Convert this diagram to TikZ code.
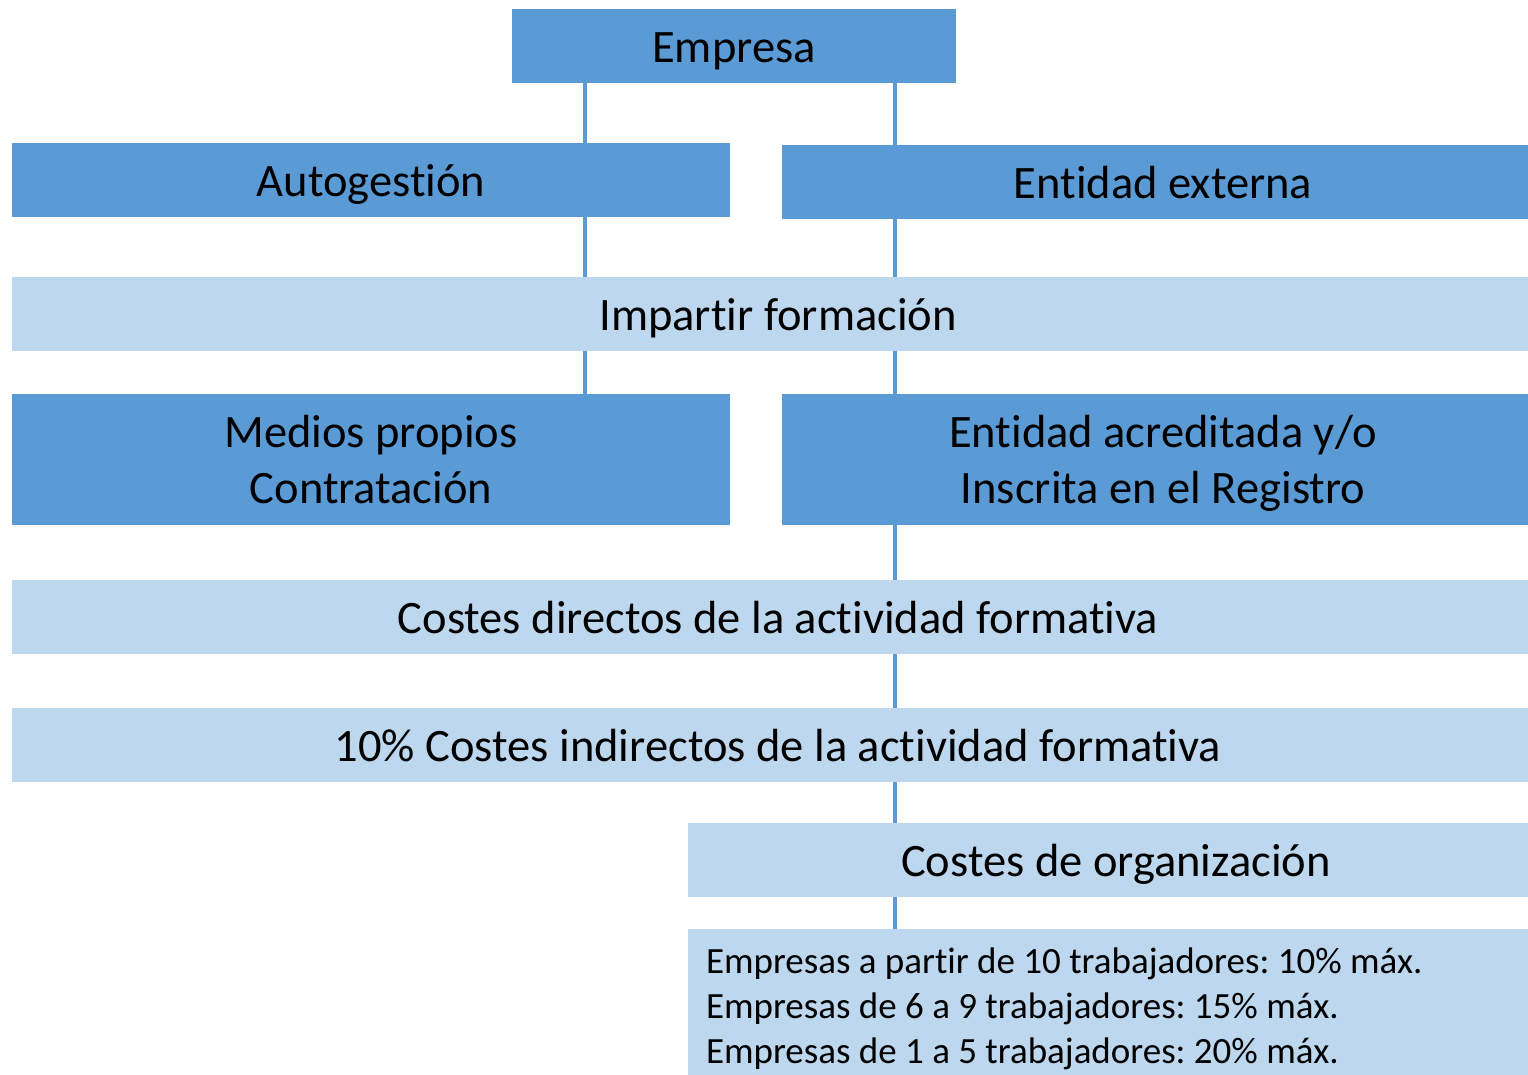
\documentclass[tikz,border=0pt]{standalone}
\usepackage{fontspec}
\setmainfont{Carlito}[Ligatures={NoCommon,NoContextual}]
\definecolor{dblue}{HTML}{5B9BD5}
\definecolor{lblue}{HTML}{BDD7EE}
\begin{document}
\begin{tikzpicture}[x=1pt,y=-1pt,
  box/.style={rectangle, inner sep=0pt, align=center, text=black,
    font=\fontsize{46.5}{56}\selectfont, minimum height=74pt},
  one/.style={text height=33pt, text depth=0pt},
  line/.style={box, one, minimum height=0pt},
  dbox/.style={box, fill=dblue},
  lbox/.style={box, fill=lblue},
  conn/.style={draw=dblue, line width=4pt}]
\useasboundingbox (0,0) rectangle (1528,1075);
\clip (0,0) rectangle (1528,1075);
\coordinate (xl) at (585,0);
\coordinate (xr) at (894.5,0);
\node[dbox, one, minimum width=444pt] (emp) at (734,46) {Empresa};
\node[dbox, one, minimum width=718pt] (auto) at (371,180) {Autogestión};
\node[dbox, one, minimum width=762pt] (ext) at (1163,182) {Entidad externa};
\node[lbox, one, minimum width=1532pt] (imp) at (778,314) {Impartir formación};
\node[dbox, minimum width=718pt, minimum height=131pt] (med) at (371,459.5) {};
\node[dbox, minimum width=762pt, minimum height=131pt] (acr) at (1163,459.5) {};
\node[line] (med1) at (371,431) {Medios propios};
\node[line] (med2) at (371,487) {Contratación};
\node[line] (acr1) at (1163,431) {Entidad acreditada y/o};
\node[line] (acr2) at (1163,487) {Inscrita en el Registro};
\node[lbox, one, minimum width=1532pt] (dir) at (778,617) {Costes directos de la actividad formativa};
\node[lbox, one, minimum width=1532pt] (ind) at (778,745) {10\% Costes indirectos de la actividad formativa};
\node[lbox, one, minimum width=856pt] (org) at (1116,860) {Costes de organización};
\node[lbox, minimum height=152pt, text width=820pt, inner xsep=18pt, align=flush left,
  text height=24pt, text depth=88pt,
  font=\fontsize{37}{45}\selectfont\frenchspacing] (lst) at (1116,1005)
  {Empresas a partir de 10 trabajadores: 10\% máx.\\Empresas de 6 a 9 trabajadores: 15\% máx.\\Empresas de 1 a 5 trabajadores: 20\% máx.};
\draw[conn] (emp.south -| xl) -- (auto.north -| xl);
\draw[conn] (auto.south -| xl) -- (imp.north -| xl);
\draw[conn] (imp.south -| xl) -- (med.north -| xl);
\draw[conn] (emp.south -| xr) -- (ext.north -| xr);
\draw[conn] (ext.south -| xr) -- (imp.north -| xr);
\draw[conn] (imp.south -| xr) -- (acr.north -| xr);
\draw[conn] (acr.south -| xr) -- (dir.north -| xr);
\draw[conn] (dir.south -| xr) -- (ind.north -| xr);
\draw[conn] (ind.south -| xr) -- (org.north -| xr);
\draw[conn] (org.south -| xr) -- (lst.north -| xr);
\end{tikzpicture}
\end{document}
